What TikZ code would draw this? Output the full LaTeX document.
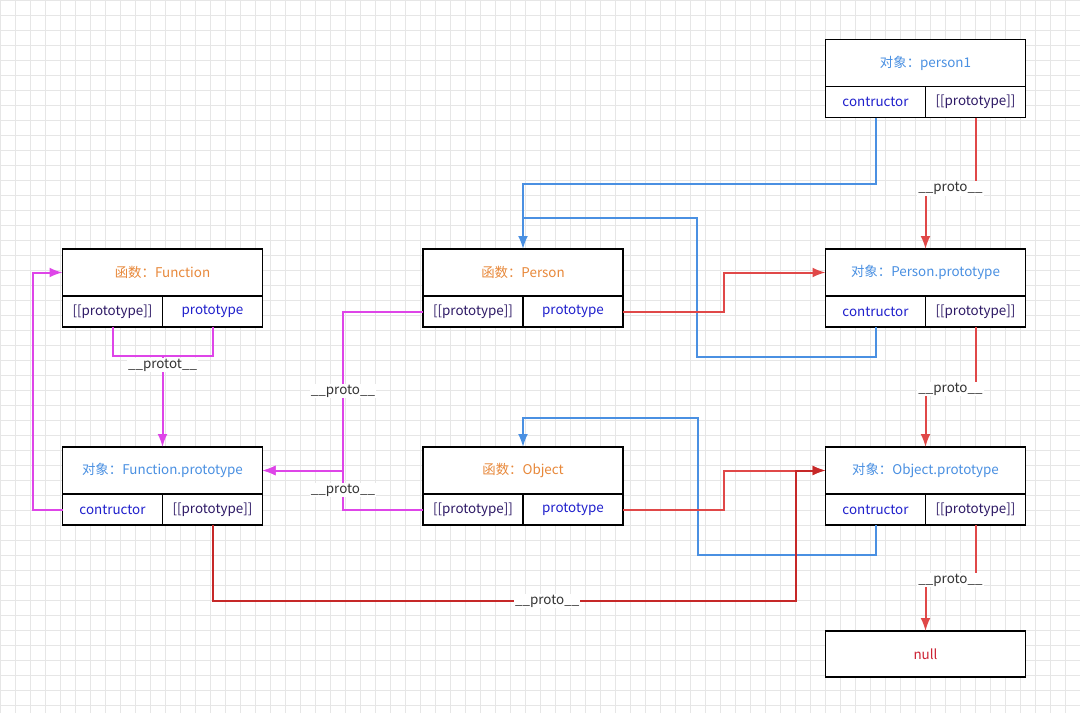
\documentclass[tikz,border=0pt]{standalone}
\usepackage{fontspec}
\setmainfont{Noto Sans CJK SC}
\usetikzlibrary{arrows.meta,positioning}

\definecolor{objblue}{HTML}{4A90E2}
\definecolor{fnorange}{HTML}{E8883A}
\definecolor{cellblue}{HTML}{1F1FCC}
\definecolor{cellpurple}{HTML}{2E1A66}
\definecolor{linkred}{HTML}{E04848}
\definecolor{deepred}{HTML}{C62828}
\definecolor{linkmag}{HTML}{DE45E8}
\definecolor{nullred}{HTML}{CC2233}
\definecolor{gridgray}{HTML}{E6E6E6}

\begin{document}
\begin{tikzpicture}[x=1pt,y=-1pt,>={Latex[length=13pt,width=10pt]},
  font=\fontsize{13.4}{16}\selectfont,
  title/.style={draw,fill=white,line width=1.6pt,outer sep=0pt,inner sep=0pt,
    minimum width=200pt,minimum height=47pt},
  objtitle/.style={title,text=objblue},
  fntitle/.style={title,text=fnorange},
  cell/.style={draw,fill=white,line width=1.6pt,outer sep=0pt,inner sep=0pt,
    minimum width=100pt,minimum height=31pt},
  ctor/.style={cell,text=cellblue},
  proto/.style={cell,text=cellpurple},
  lbl/.style={fill=white,inner sep=1pt,text=black!80},
  link/.style={line width=2pt,line join=miter},
  bluelink/.style={link,objblue},
  redlink/.style={link,linkred},
  deeplink/.style={link,deepred},
  maglink/.style={link,linkmag}]
\useasboundingbox (0,0) rectangle (1080,713);
\fill[white] (0,0) rectangle (1080,713);
\draw[gridgray,line width=0.7pt,step=15pt] (0,0) grid (1080,713);

% right column: objects
\node[objtitle] (p1) at (925.5,63) {对象：person1};
\node[ctor,below right=0pt and 0pt of p1.south west] (p1c) {contructor};
\node[proto,right=0pt of p1c] (p1p) {[[prototype]]};

\node[objtitle] (pp) at (925.5,272.5) {对象：Person.prototype};
\node[ctor,below right=0pt and 0pt of pp.south west] (ppc) {contructor};
\node[proto,right=0pt of ppc] (ppp) {[[prototype]]};

\node[objtitle] (op) at (925.5,470.5) {对象：Object.prototype};
\node[ctor,below right=0pt and 0pt of op.south west] (opc) {contructor};
\node[proto,right=0pt of opc] (opp) {[[prototype]]};

\node[title,minimum height=46pt,text=nullred] (nul) at (925.5,654) {null};

% middle column: functions
\node[fntitle] (pe) at (523,272.5) {函数：Person};
\node[proto,below right=0pt and 0pt of pe.south west] (pel) {[[prototype]]};
\node[ctor,right=0pt of pel] (per) {prototype};

\node[fntitle] (ob) at (523,470.5) {函数：Object};
\node[proto,below right=0pt and 0pt of ob.south west] (obl) {[[prototype]]};
\node[ctor,right=0pt of obl] (obr) {prototype};

% left column
\node[fntitle] (fn) at (162.5,272.5) {函数：Function};
\node[proto,below right=0pt and 0pt of fn.south west] (fnp) {[[prototype]]};
\node[ctor,right=0pt of fnp] (fnr) {prototype};

\node[objtitle] (fp) at (162.5,470.5) {对象：Function.prototype};
\node[ctor,below right=0pt and 0pt of fp.south west] (fpc) {contructor};
\node[proto,right=0pt of fpc] (fpp) {[[prototype]]};

% constructor links
\draw[bluelink,->] (p1c.south) -- ++(0,66) -| (pe.north);
\draw[bluelink] (ppc.south) -- ++(0,30) -| ([xshift=174pt,yshift=31pt]pe.north)
  -- ([yshift=31pt]pe.north);
\draw[bluelink,->] (opc.south) -- ++(0,30) -| ([xshift=175pt,yshift=29pt]ob.north)
  -| (ob.north);

% prototype links
\draw[redlink,->] (per.east) -- ++(101,0) |- (pp.west);
\draw[redlink,->] (obr.east) -- ++(101,0) |- (op.west);
\draw[deeplink,->] (fpp.south) -- ++(0,76)
  -| node[lbl,pos=0.287] {\_\_proto\_\_} ([xshift=-30pt]op.west) -- (op.west);

% proto chain on the right
\draw[redlink,->] (p1p.south) -- ++(0,71) -| node[lbl,pos=0.25] {\_\_proto\_\_} (pp.north);
\draw[redlink,->] (ppp.south) -- ++(0,62) -| node[lbl,pos=0.25] {\_\_proto\_\_} (op.north);
\draw[redlink,->] (opp.south) -- ++(0,55) -| node[lbl,pos=0.25] {\_\_proto\_\_} (nul.north);

% proto links into Function.prototype
\coordinate (fn-out) at ([yshift=-29pt]fnp.south -| fn.south);
\draw[maglink] (fnp.south) |- (fn-out) -| (fnr.south);
\draw[maglink,->] (fn-out) -- node[lbl,pos=0.1] {\_\_protot\_\_} (fp.north);
\draw[maglink,->] (pel.west) -- ++(-80,0) |- node[lbl,pos=0.25] {\_\_proto\_\_} (fp.east);
\draw[maglink,->] (obl.west) -- ++(-80,0) |- node[lbl,pos=0.25] {\_\_proto\_\_} (fp.east);
\draw[maglink,->] (fpc.west) -- ++(-30,0) |- (fn.west);
\end{tikzpicture}
\end{document}
